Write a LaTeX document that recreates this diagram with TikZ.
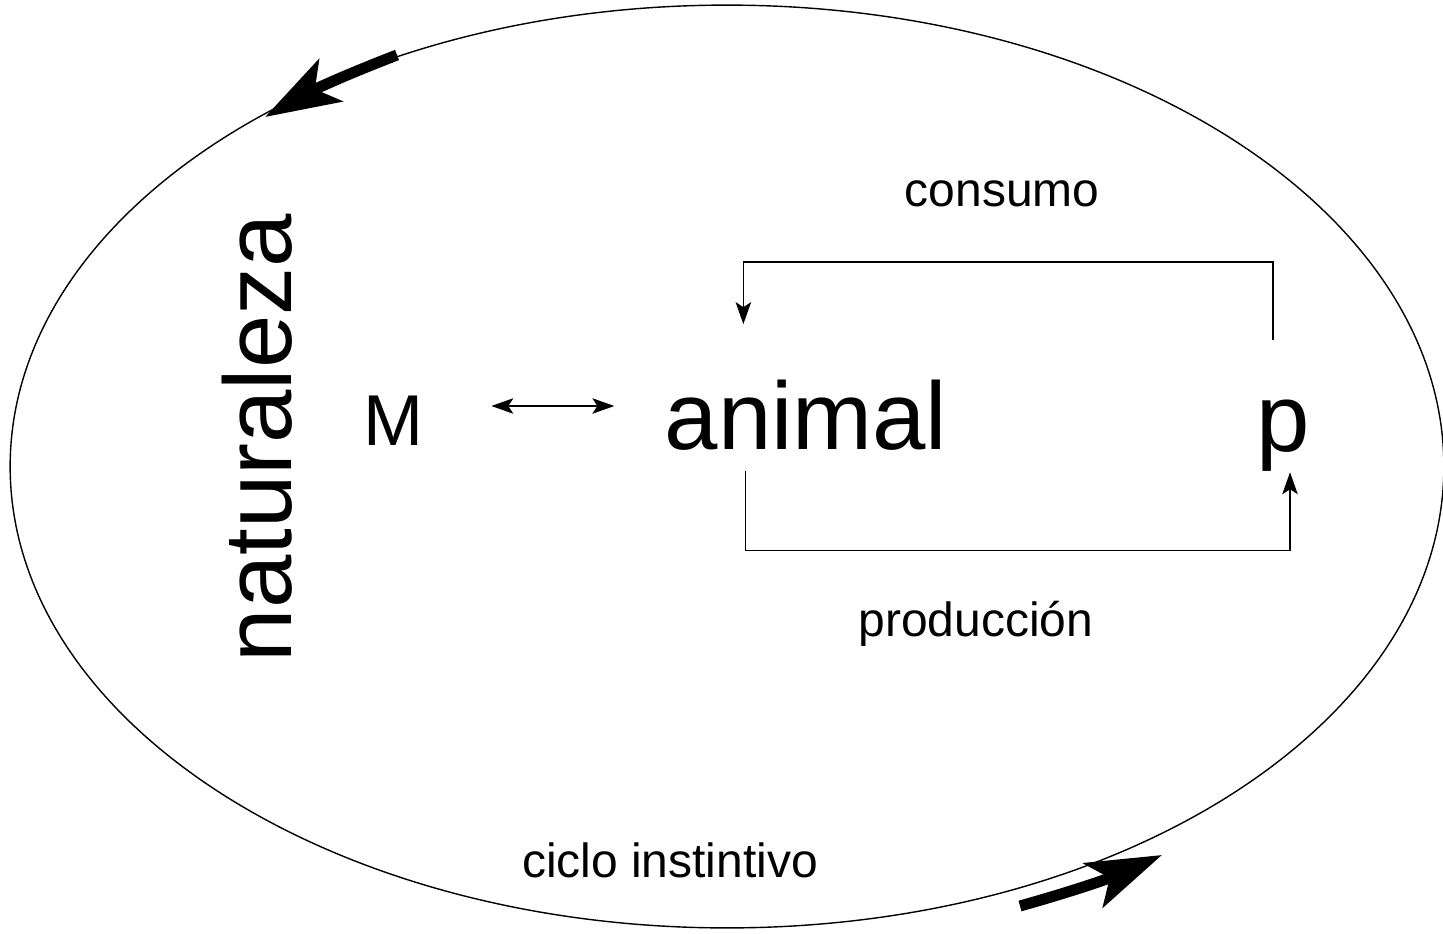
\documentclass[tikz,border=0pt]{standalone}
\usepackage{fontspec}
\setmainfont{Liberation Sans}
\usetikzlibrary{arrows.meta,calc}

\begin{document}
\begin{tikzpicture}[x=0.02cm,y=-0.02cm]
	\tikzstyle{every node}=[inner sep=0pt, anchor=base]
	\tikzstyle{flecha}=[line width=0.8pt, -{Stealth[length=0.44cm,width=0.31cm,inset=0.1cm]}]
	\tikzstyle{doble}=[line width=0.8pt, {Stealth[length=0.44cm,width=0.31cm,inset=0.1cm]}-{Stealth[length=0.44cm,width=0.31cm,inset=0.1cm]}]
	\tikzstyle{ciclo}=[line width=0.22cm, -{Stealth[length=1.5cm,width=0.96cm,inset=0.36cm]}]
	\tikzstyle{grande}=[font=\fontsize{54.6}{60}\selectfont]
	\tikzstyle{chico}=[font=\fontsize{27.3}{32}\selectfont]
	
	\useasboundingbox (0,0) rectangle (1443,933);
	
	% ciclo
	\draw[line width=0.8pt] (727,466.5) ellipse [x radius=14.34cm, y radius=9.23cm];
	\draw[ciclo] (397,55) to[bend right=4] (265,117);
	\draw[ciclo] (1020,906) to[bend right=4] (1162,855);
	
	\node[grande, rotate=90] (nat) at (291,438) {naturaleza};
	\node[font=\fontsize{41}{46}\selectfont] (M) at (393,445) {M};
	\node[grande] (animal) at (806,449) {animal};
	\node[grande] (p) at (1283,451) {p};
	
	\node[chico] (cons) at (1002,206) {consumo};
	\node[chico] (prod) at (976,636) {producción};
	\node[chico] (ciclo) at (670,877) {ciclo instintivo};
	
	\coordinate (eje) at (0,406);
	\draw[doble, shorten <=1.36cm, shorten >=1.0cm] (M.east |- eje) -- (animal.west |- eje);
	
	\coordinate (consA) at ($(p.north)+(-10,-59)$);
	\coordinate (consB) at ($(animal.north west)+(79,-55)$);
	\draw[flecha] (consA) |- ($(consB)+(0,-62)$) -- (consB);
	
	\coordinate (prodA) at ($(animal.south west)+(81,21)$);
	\coordinate (prodB) at ($(p.south)+(7,1)$);
	\draw[flecha] (prodA) -- ++(0,79) -| (prodB);
	
\end{tikzpicture}
\end{document}
